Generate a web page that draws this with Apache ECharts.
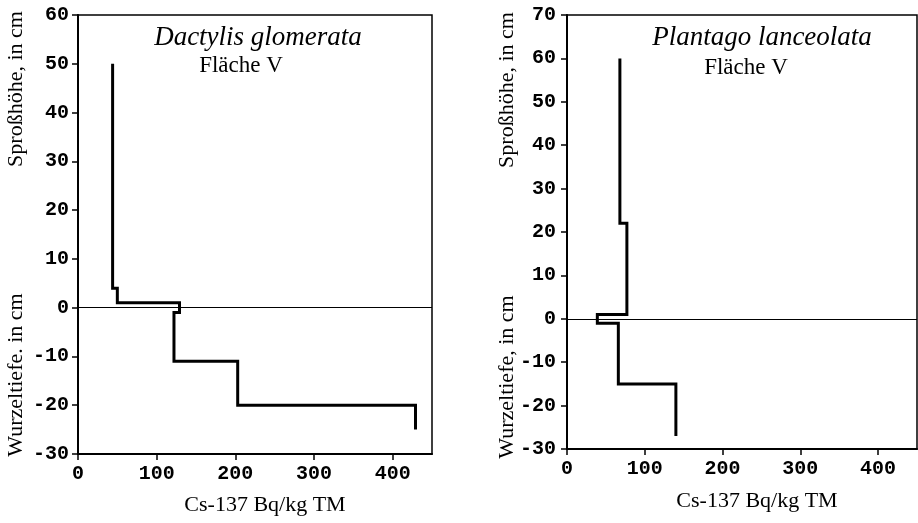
<!DOCTYPE html>
<html><head><meta charset="utf-8">
<script src="https://cdn.jsdelivr.net/npm/echarts@6/dist/echarts.min.js"></script>
<style>html,body{margin:0;padding:0;background:#fff}#c{width:918px;height:523px}</style>
</head><body><div id="c"></div>
<script>
// ---- data ----
const xTicks = [0, 100, 200, 300, 400];
const leftYTicks = [-30, -20, -10, 0, 10, 20, 30, 40, 50, 60];
const rightYTicks = [-30, -20, -10, 0, 10, 20, 30, 40, 50, 60, 70];

// Dactylis glomerata, Fläche V (step profile: Cs-137 vs height/depth)
const dactylisCs    = [44, 44, 50, 50, 129, 129, 122, 122, 203, 203, 429, 429];
const dactylisDepth = [50,  4,  4,  1,   1,  -1,  -1, -11, -11, -20, -20, -25];

// Plantago lanceolata, Fläche V
const plantagoCs    = [68, 68, 77, 77, 39, 39, 66, 66, 140, 140];
const plantagoDepth = [60, 22, 22,  1,  1, -1, -1, -15, -15, -27];

const leftTitle = 'Dactylis glomerata';
const rightTitle = 'Plantago lanceolata';
const subTitle = 'Fläche V';
const xName = 'Cs-137 Bq/kg TM';
const yTop = 'Sproßhöhe, in cm';
const yBottomLeft = 'Wurzeltiefe. in cm';
const yBottomRight = 'Wurzeltiefe, in cm';

// ---- chart ----
const pairs = (xs, ys) => xs.map((v, i) => [v, ys[i]]);
const tickFont = {fontFamily: '"Liberation Mono", monospace', fontWeight: 'bold', fontSize: 20, color: '#000'};
const serif = '"Liberation Serif", "Times New Roman", serif';

function xAxis(gi) {
  return {
    type: 'value', gridIndex: gi, min: 0, max: 450, interval: 100, position: 'bottom',
    axisLine: {show: true, onZero: false, lineStyle: {color: '#000', width: 2}},
    axisTick: {show: true, inside: false, length: 6, lineStyle: {color: '#000', width: 1.5}, customValues: xTicks},
    axisLabel: Object.assign({margin: 10, customValues: xTicks}, tickFont),
    splitLine: {show: false}
  };
}
function yAxis(gi, max, ticks, margin) {
  return {
    type: 'value', gridIndex: gi, min: -30, max: max, interval: 10, position: 'left',
    axisLine: {show: true, onZero: false, lineStyle: {color: '#000', width: 2}},
    axisTick: {show: true, inside: false, length: 6, lineStyle: {color: '#000', width: 1.5}, customValues: ticks},
    axisLabel: Object.assign({margin: margin, customValues: ticks}, tickFont),
    splitLine: {show: false}
  };
}
function stepSeries(gi, data) {
  return {
    type: 'line', xAxisIndex: gi, yAxisIndex: gi, data: data,
    showSymbol: false, symbol: 'none', animation: false,
    lineStyle: {color: '#000', width: 3, join: 'miter', cap: 'butt'},
    markLine: {
      silent: true, symbol: 'none', animation: false,
      label: {show: false},
      lineStyle: {color: '#000', width: 1, type: 'solid'},
      data: [{yAxis: 0}]
    }
  };
}
function txt(x, y, text, font, rot) {
  return {
    type: 'text', x: x, y: y, rotation: rot || 0, silent: true,
    style: {text: text, font: font, fill: '#000', align: 'center', verticalAlign: 'middle'}
  };
}

const chart = echarts.init(document.getElementById('c'), null, {renderer: 'canvas'});
chart.setOption({
  backgroundColor: '#fff',
  animation: false,
  grid: [
    {left: 78, top: 15, width: 354, height: 439, show: true, borderColor: '#000', borderWidth: 1.5, backgroundColor: 'transparent'},
    {left: 567, top: 15, width: 350, height: 434, show: true, borderColor: '#000', borderWidth: 1.5, backgroundColor: 'transparent'}
  ],
  xAxis: [xAxis(0), xAxis(1)],
  yAxis: [yAxis(0, 60, leftYTicks, 9), yAxis(1, 70, rightYTicks, 11)],
  series: [
    stepSeries(0, pairs(dactylisCs, dactylisDepth)),
    stepSeries(1, pairs(plantagoCs, plantagoDepth))
  ],
  graphic: [
    txt(258, 38, leftTitle, 'italic 27px ' + serif),
    txt(241, 66, subTitle, '23px ' + serif),
    txt(762, 38, rightTitle, 'italic 27px ' + serif),
    txt(746, 68, subTitle, '23px ' + serif),
    txt(265, 505, xName, '22px ' + serif),
    txt(757, 501, xName, '22px ' + serif),
    txt(16, 89, yTop, '22px ' + serif, Math.PI / 2),
    txt(16, 375, yBottomLeft, '22px ' + serif, Math.PI / 2),
    txt(507, 90, yTop, '22px ' + serif, Math.PI / 2),
    txt(507, 377, yBottomRight, '22px ' + serif, Math.PI / 2)
  ]
});
</script>
</body></html>
